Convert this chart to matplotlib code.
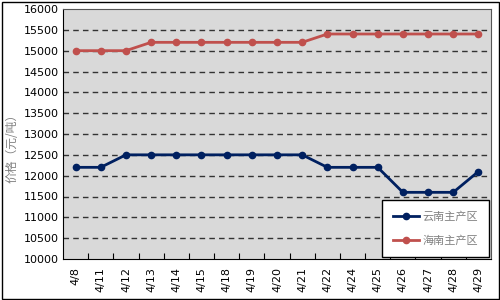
import matplotlib
matplotlib.use("Agg")
import matplotlib.pyplot as plt
from matplotlib.patches import Rectangle

plt.rcParams['font.family'] = ['Noto Sans CJK SC', 'DejaVu Sans']

dates = ["4/8", "4/11", "4/12", "4/13", "4/14", "4/15", "4/18", "4/19", "4/20",
         "4/21", "4/22", "4/24", "4/25", "4/26", "4/27", "4/28", "4/29"]
yunnan = [12200, 12200, 12500, 12500, 12500, 12500, 12500, 12500, 12500,
          12500, 12200, 12200, 12200, 11600, 11600, 11600, 12100]
hainan = [15000, 15000, 15000, 15200, 15200, 15200, 15200, 15200, 15200,
          15200, 15400, 15400, 15400, 15400, 15400, 15400, 15400]
yticks = list(range(10000, 16001, 500))

fig = plt.figure(figsize=(5, 3), dpi=100)
fig.patches.append(Rectangle((0.003, 0.005), 0.994, 0.99, transform=fig.transFigure,
                             fill=False, edgecolor='black', linewidth=1.0))
ax = fig.add_axes([63/500, 1 - 259/300, (491-63)/500, (259-9)/300])
ax.set_facecolor('#D9D9D9')
x = list(range(len(dates)))
ax.plot(x, yunnan, color='#002060', marker='o', markersize=4.5, linewidth=2.0, label='云南主产区')
ax.plot(x, hainan, color='#C0504D', marker='o', markersize=4.5, linewidth=2.0, label='海南主产区')
ax.set_xlim(-0.5, len(dates) - 0.5)
ax.set_ylim(10000, 16000)
ax.set_yticks(yticks)
ax.set_yticklabels([str(v) for v in yticks], fontsize=8, family=['DejaVu Sans'])
ax.set_xticks([i + 0.5 for i in range(len(dates) - 1)])
ax.set_xticklabels([])
ax.set_xticks(x, minor=True)
ax.set_xticklabels(dates, minor=True, rotation=90, fontsize=8, family=['DejaVu Sans'])
ax.tick_params(axis='x', which='major', direction='in', length=4, color='black')
ax.tick_params(axis='x', which='minor', length=0, pad=6)
ax.tick_params(axis='y', length=0, pad=3)
for v in yticks[1:-1]:
    ax.axhline(v, color='#333333', linestyle=(0, (4, 3)), linewidth=1.0, zorder=1)
for s in ax.spines.values():
    s.set_color('#555555')
    s.set_linewidth(0.8)
ax.spines['bottom'].set_color('black')
ax.spines['left'].set_color('black')
fig.text(12/500, 1 - 145/300, '价格（元/吨）', color='#808080', fontsize=8.5,
         rotation=90, ha='center', va='center')
leg = ax.legend(loc='lower right', bbox_to_anchor=(489/500, 1 - 257/300),
                bbox_transform=fig.transFigure, borderaxespad=0,
                fontsize=8, frameon=True, fancybox=False, edgecolor='black',
                borderpad=1.0, labelspacing=1.25, handlelength=2.3, handletextpad=0.3)
for t in leg.get_texts():
    t.set_color('#808080')
leg.get_frame().set_linewidth(1.0)
leg.get_frame().set_alpha(1.0)
fig.savefig('out.png', dpi=100)
